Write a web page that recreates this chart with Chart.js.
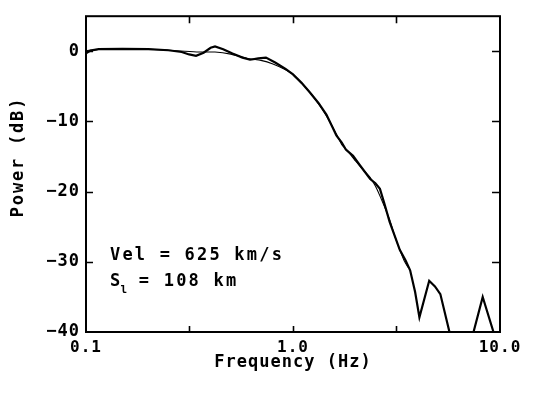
<!DOCTYPE html>
<html><head><meta charset="utf-8">
<script src="https://cdn.jsdelivr.net/npm/chart.js@4.4.1/dist/chart.umd.min.js"></script>
<style>html,body{margin:0;padding:0;background:#fff}#wrap{width:537px;height:395px;position:relative}</style>
</head><body><div id="wrap"><canvas id="c" width="537" height="395"></canvas></div>
<script>
// Observed spectrum (thick line)
const freqObserved = [0.1, 0.105, 0.115, 0.15, 0.2, 0.25, 0.29, 0.315, 0.34, 0.37, 0.40, 0.42, 0.46, 0.51, 0.57, 0.62, 0.68, 0.74, 0.82, 0.92, 1.0, 1.1, 1.21, 1.33, 1.45, 1.55, 1.62, 1.72, 1.8, 1.95, 2.1, 2.36, 2.5, 2.63, 2.75, 2.93, 3.1, 3.28, 3.5, 3.68, 3.89, 4.08, 4.55, 4.85, 5.15, 5.7, 6.2, 7.0, 7.45, 8.25, 9.3, 10.0];
const powerObserved = [-0.3, 0.1, 0.3, 0.35, 0.3, 0.15, -0.1, -0.45, -0.65, -0.2, 0.5, 0.7, 0.3, -0.3, -0.9, -1.2, -1.0, -0.9, -1.6, -2.5, -3.3, -4.5, -5.9, -7.4, -9.0, -10.8, -12.0, -13.0, -14.0, -14.9, -16.2, -18.2, -18.8, -19.6, -21.5, -24.3, -26.3, -28.3, -29.8, -31.2, -34.3, -37.9, -32.7, -33.5, -34.6, -40, -43, -43, -40, -35, -40, -44];
// Model spectrum (thin line)
const freqModel = [0.1, 0.12, 0.2, 0.25, 0.3, 0.35, 0.42, 0.5, 0.6, 0.7, 0.8, 0.9, 1.0, 1.21, 1.45, 1.62, 1.72, 1.85, 2.0, 2.2, 2.36, 2.5, 2.63, 2.93, 3.1, 3.28, 3.45, 3.6];
const powerModel = [0.1, 0.3, 0.3, 0.15, 0.0, -0.1, -0.1, -0.4, -1.0, -1.3, -1.8, -2.5, -3.3, -5.9, -9.2, -11.8, -13.3, -14.3, -15.6, -17.0, -18.0, -19.2, -20.6, -24.0, -26.3, -28.3, -29.9, -30.8];
// Axis ticks
const xTickValues = [0.1, 0.316, 1, 3.16, 10];
const xTickLabels = ['0.1', '', '1.0', '', '10.0'];
const yTickValues = [-40, -30, -20, -10, 0];
const yTickLabels = ['\u221240', '\u221230', '\u221220', '\u221210', '0'];
const annotationLine1 = 'Vel = 625 km/s';
const annotationS = 'S';
const annotationSub = 'l';
const annotationLine2 = ' = 108 km';
const xTitle = 'Frequency (Hz)';
const yTitle = 'Power (dB)';

const FONT = "'DejaVu Sans Mono', monospace";

const frame = {
  id: 'frame',
  beforeDraw(chart) { chart.ctx.letterSpacing = '1px'; },
  afterDraw(chart) {
    const ctx = chart.ctx, a = chart.chartArea;
    const xs = chart.scales.x, ys = chart.scales.y;
    ctx.save();
    ctx.strokeStyle = '#000';
    ctx.lineWidth = 2;
    ctx.strokeRect(a.left, a.top, a.right - a.left, a.bottom - a.top);
    ctx.lineWidth = 1.6;
    ctx.beginPath();
    xTickValues.slice(1, -1).forEach(v => {
      const px = Math.round(xs.getPixelForValue(v)) + 0.5;
      ctx.moveTo(px, a.bottom); ctx.lineTo(px, a.bottom - 6);
      ctx.moveTo(px, a.top); ctx.lineTo(px, a.top + 7);
    });
    yTickValues.slice(1).forEach(v => {
      const py = Math.round(ys.getPixelForValue(v)) + 0.5;
      ctx.moveTo(a.left, py); ctx.lineTo(a.left + 7, py);
      ctx.moveTo(a.right, py); ctx.lineTo(a.right - 8, py);
    });
    ctx.stroke();
    ctx.fillStyle = '#000';
    // y title
    ctx.letterSpacing = '1.8px';
    ctx.font = 'bold 17px ' + FONT;
    ctx.save();
    ctx.translate(19, 157);
    ctx.rotate(-Math.PI / 2);
    ctx.textAlign = 'center';
    ctx.textBaseline = 'middle';
    ctx.fillText(yTitle, 0, 0);
    ctx.restore();
    // annotation
    ctx.letterSpacing = '2.2px';
    ctx.font = 'bold 17px ' + FONT;
    ctx.textAlign = 'left';
    ctx.textBaseline = 'alphabetic';
    const x0 = a.left + 24;
    ctx.fillText(annotationLine1, x0, 260);
    ctx.fillText(annotationS, x0, 286);
    const wS = ctx.measureText(annotationS).width;
    ctx.font = 'bold 11px ' + FONT;
    ctx.letterSpacing = '0px';
    ctx.fillText(annotationSub, x0 + wS - 2, 293);
    ctx.letterSpacing = '2.2px';
    ctx.font = 'bold 17px ' + FONT;
    ctx.fillText(annotationLine2, x0 + wS + 4, 286);
    ctx.restore();
  }
};

const chart = new Chart(document.getElementById('c'), {
  type: 'line',
  data: {
    datasets: [
      {
        label: 'Observed',
        data: freqObserved.map((f, i) => ({x: f, y: powerObserved[i]})),
        borderColor: '#000', borderWidth: 2.2, pointRadius: 0, tension: 0, fill: false
      },
      {
        label: 'Model',
        data: freqModel.map((f, i) => ({x: f, y: powerModel[i]})),
        borderColor: '#000', borderWidth: 1.1, pointRadius: 0, tension: 0.15, fill: false
      }
    ]
  },
  options: {
    responsive: false,
    animation: false,
    devicePixelRatio: 1,
    layout: {padding: {top: 13, right: 37, left: 0, bottom: 0}},
    plugins: {legend: {display: false}, tooltip: {enabled: false}},
    scales: {
      x: {
        type: 'logarithmic', min: 0.1, max: 10,
        afterBuildTicks(s) { s.ticks = xTickValues.map(v => ({value: v})); },
        afterFit(s) { s.height = 63; },
        grid: {display: false, drawTicks: false},
        border: {display: false},
        ticks: {
          autoSkip: false, maxRotation: 0, padding: 6, color: '#000',
          font: {family: FONT, size: 16, weight: 'bold'},
          callback: (v, i) => xTickLabels[i]
        },
        title: {display: true, text: xTitle, color: '#000',
          font: {family: FONT, size: 17, weight: 'bold'},
          padding: {top: 0, bottom: 22}}
      },
      y: {
        type: 'linear', min: -40, max: 5,
        afterBuildTicks(s) { s.ticks = yTickValues.map(v => ({value: v})); },
        afterFit(s) { s.width = 86; },
        grid: {display: false, drawTicks: false},
        border: {display: false},
        ticks: {
          autoSkip: false, padding: 6, color: '#000',
          font: {family: FONT, size: 17, weight: 'bold'},
          callback: (v, i) => yTickLabels[i]
        }
      }
    }
  },
  plugins: [frame]
});
</script>
</body></html>
